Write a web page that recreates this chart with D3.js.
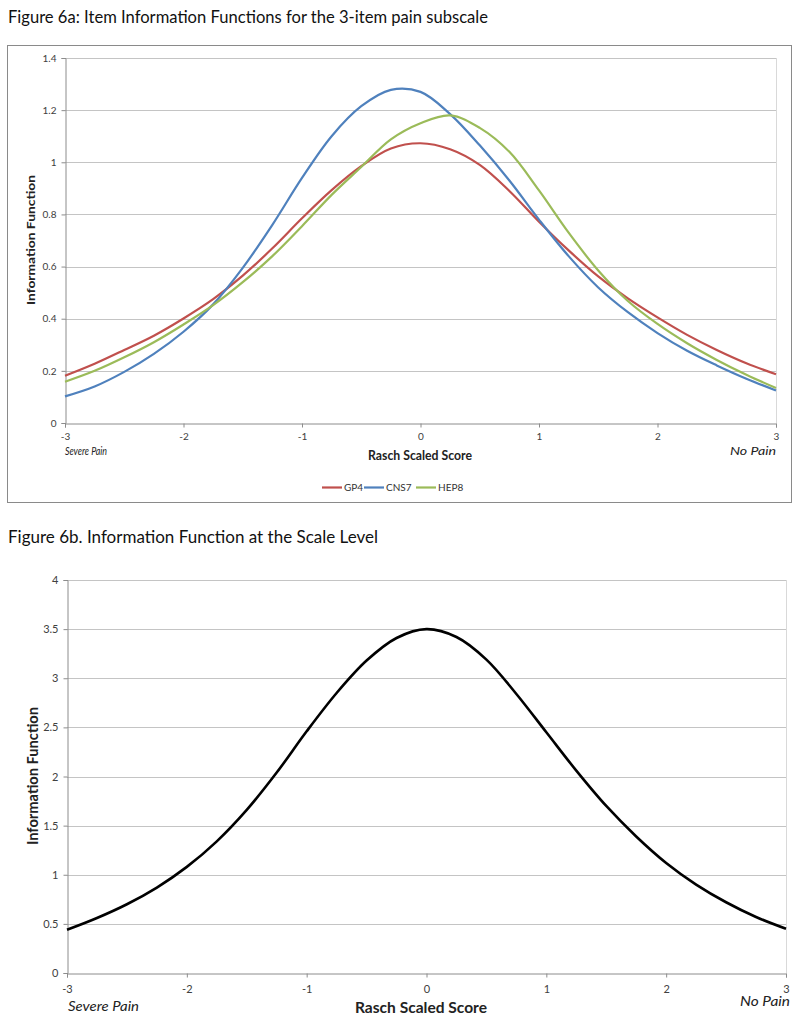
<!DOCTYPE html>
<html><head><meta charset="utf-8">
<script src="https://cdn.jsdelivr.net/npm/d3@7"></script>
<style>body{margin:0;background:#fff}svg{display:block}text{font-family:Lato,"Open Sans",sans-serif}</style>
</head><body><svg id="c" width="800" height="1021"></svg>
<script>
// ---- data ----
const scores = [-3,-2.75,-2.5,-2.25,-2,-1.75,-1.5,-1.25,-1,-0.75,-0.5,-0.25,0,0.25,0.5,0.75,1,1.25,1.5,1.75,2,2.25,2.5,2.75,3];
const gp4  = [0.181,0.227,0.280,0.335,0.401,0.475,0.565,0.670,0.785,0.893,0.985,1.053,1.073,1.050,0.990,0.890,0.772,0.662,0.562,0.478,0.405,0.338,0.280,0.229,0.187];
const cns7 = [0.102,0.140,0.196,0.265,0.350,0.455,0.595,0.760,0.940,1.100,1.215,1.278,1.270,1.185,1.065,0.930,0.780,0.640,0.520,0.425,0.345,0.277,0.221,0.170,0.125];
const hep8 = [0.158,0.200,0.252,0.310,0.378,0.452,0.540,0.640,0.755,0.875,0.982,1.088,1.150,1.180,1.132,1.040,0.892,0.730,0.585,0.468,0.380,0.306,0.242,0.185,0.134];
const total = [0.44,0.56,0.70,0.87,1.08,1.34,1.66,2.04,2.46,2.85,3.18,3.41,3.50,3.42,3.19,2.84,2.45,2.06,1.70,1.39,1.12,0.90,0.72,0.57,0.45];
const seriesNames = ["GP4","CNS7","HEP8"];
const seriesColors = ["#c0504d","#4f81bd","#9bbb59"];
const xTicks = [-3,-2,-1,0,1,2,3];
const yTicksA = [0,0.2,0.4,0.6,0.8,1,1.2,1.4];
const yTicksB = [0,0.5,1,1.5,2,2.5,3,3.5,4];

const svg = d3.select("#c");
const grid = "#c4c4c4", axisCol = "#8c8c8c", txt = "#404040";

function chart(o){
  const g = svg.append("g");
  const x = d3.scaleLinear().domain([-3,3]).range([o.x0,o.x1]);
  const y = d3.scaleLinear().domain([0,o.ymax]).range([o.y0,o.y1]);
  g.selectAll(".gl").data(o.yTicks.filter(d=>d>0)).join("line")
    .attr("x1",o.x0).attr("x2",o.x1).attr("y1",d=>Math.round(y(d))+0.5).attr("y2",d=>Math.round(y(d))+0.5)
    .attr("stroke",grid).attr("stroke-width",1.2);
  g.append("line").attr("x1",o.x1+0.5).attr("x2",o.x1+0.5).attr("y1",o.y1).attr("y2",o.y0).attr("stroke","#d9d9d9");
  const ya = g.append("g").attr("transform",`translate(${o.x0+0.5},0)`)
    .call(d3.axisLeft(y).tickValues(o.yTicks).tickSize(4).tickPadding(5).tickFormat(d=>String(d)));
  ya.select(".domain").attr("stroke",axisCol);
  ya.selectAll(".tick line").attr("stroke",axisCol);
  ya.selectAll(".tick text").attr("fill",txt).style("font-size",o.tfs+"px").style("font-family","Lato,sans-serif");
  const xa = g.append("g").attr("transform",`translate(0,${Math.round(o.y0)+0.5})`)
    .call(d3.axisBottom(x).tickValues(xTicks).tickSize(4).tickPadding(o.xpad).tickFormat(d=>String(d)));
  xa.select(".domain").attr("stroke",axisCol);
  xa.selectAll(".tick line").attr("stroke",axisCol);
  xa.selectAll(".tick text").attr("fill",txt).style("font-size",o.tfs+"px").style("font-family","Lato,sans-serif");
  const line = d3.line().x((d,i)=>x(scores[i])).y(d=>y(d)).curve(d3.curveCatmullRom.alpha(0.5));
  o.series.forEach((s,k)=>{
    g.append("path").datum(s).attr("d",line).attr("fill","none")
      .attr("stroke",o.colors[k]).attr("stroke-width",o.lw).attr("stroke-linejoin","round");
  });
  return {x,y,g};
}

// ---- Figure 6a ----
svg.append("text").attr("x",8).attr("y",23).attr("font-size",17).attr("fill","#111")
  .attr("textLength",480).attr("lengthAdjust","spacingAndGlyphs")
  .text("Figure 6a: Item Information Functions for the 3-item pain subscale");
svg.append("rect").attr("x",7.5).attr("y",45.5).attr("width",784).attr("height",457)
  .attr("fill","none").attr("stroke","#8a8a8a").attr("stroke-width",1);
chart({x0:65,x1:776,y0:423,y1:58,ymax:1.4,yTicks:yTicksA,tfs:10,xpad:5,lw:2.2,
  series:[gp4,cns7,hep8],colors:seriesColors});
svg.append("text").attr("x",65).attr("y",455).attr("font-size",11).attr("font-style","italic").attr("fill","#222")
  .attr("textLength",42).attr("lengthAdjust","spacingAndGlyphs").text("Severe Pain");
svg.append("text").attr("x",776).attr("y",455).attr("font-size",11).attr("font-style","italic").attr("fill","#222")
  .attr("text-anchor","end").attr("textLength",46).attr("lengthAdjust","spacingAndGlyphs").text("No Pain");
svg.append("text").attr("x",420).attr("y",460).attr("font-size",12.5).attr("font-weight","bold").attr("fill","#222")
  .attr("text-anchor","middle").attr("textLength",104).attr("lengthAdjust","spacingAndGlyphs").text("Rasch Scaled Score");
svg.append("text").attr("transform","translate(35,240) rotate(-90)").attr("font-size",12).attr("font-weight","bold")
  .attr("fill","#222").attr("text-anchor","middle").attr("textLength",130).attr("lengthAdjust","spacingAndGlyphs")
  .text("Information Function");
const legX = [322,364,416];
seriesNames.forEach((n,i)=>{
  svg.append("line").attr("x1",legX[i]).attr("x2",legX[i]+20).attr("y1",487.5).attr("y2",487.5)
    .attr("stroke",seriesColors[i]).attr("stroke-width",2.2);
  svg.append("text").attr("x",legX[i]+22).attr("y",491).attr("font-size",10).attr("fill","#333").text(n);
});

// ---- Figure 6b ----
svg.append("text").attr("x",8).attr("y",543).attr("font-size",17).attr("fill","#111")
  .attr("textLength",370).attr("lengthAdjust","spacingAndGlyphs")
  .text("Figure 6b. Information Function at the Scale Level");
chart({x0:67,x1:786,y0:973,y1:580,ymax:4,yTicks:yTicksB,tfs:11,xpad:8,lw:2.6,
  series:[total],colors:["#000"]});
svg.append("text").attr("x",68).attr("y",1011).attr("font-size",12.5).attr("font-style","italic").attr("fill","#222")
  .attr("textLength",71).attr("lengthAdjust","spacingAndGlyphs").text("Severe Pain");
svg.append("text").attr("x",790).attr("y",1006).attr("font-size",12.5).attr("font-style","italic").attr("fill","#222")
  .attr("text-anchor","end").attr("textLength",50).attr("lengthAdjust","spacingAndGlyphs").text("No Pain");
svg.append("text").attr("x",421).attr("y",1013).attr("font-size",16).attr("font-weight","bold").attr("fill","#222")
  .attr("text-anchor","middle").attr("textLength",132).attr("lengthAdjust","spacingAndGlyphs").text("Rasch Scaled Score");
svg.append("text").attr("transform","translate(38,776) rotate(-90)").attr("font-size",16).attr("font-weight","bold")
  .attr("fill","#222").attr("text-anchor","middle").attr("textLength",138).attr("lengthAdjust","spacingAndGlyphs")
  .text("Information Function");
</script></body></html>
